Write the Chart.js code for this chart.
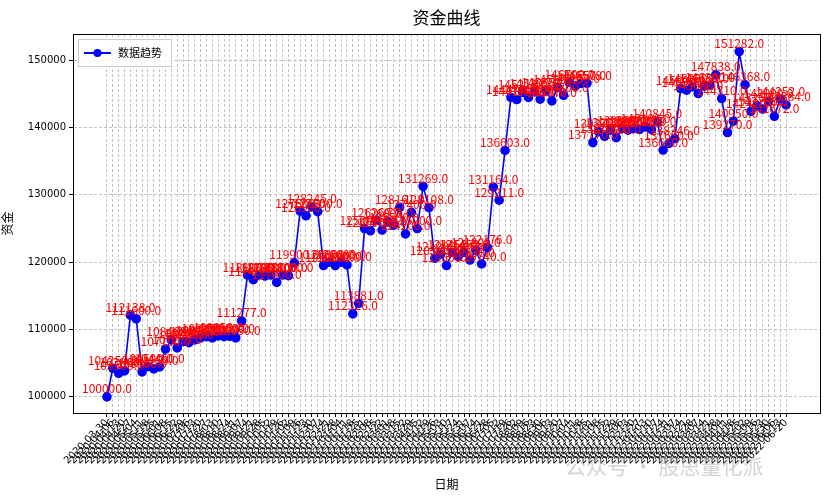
<!DOCTYPE html>
<html>
<head>
<meta charset="utf-8">
<script src="https://cdn.jsdelivr.net/npm/chart.js@4/dist/chart.umd.min.js"></script>
<style>
  html, body { margin: 0; padding: 0; background: #fff; }
  #wrap { width: 833px; height: 500px; position: relative; }
</style>
</head>
<body>
<div id="wrap"><canvas id="fund-chart"></canvas></div>
<script>
// values, one per week
const values = [
    100000, 104250, 103500, 103860, 112138, 111600, 103700, 104500, 104150, 104450,
    107100, 108460, 107270, 108200, 108060, 108460, 108750, 108950, 108750, 109050,
    108950, 109000, 108750, 111277,
    118100, 117400, 118100, 117950, 118100, 117000, 118100, 118000, 119900, 127600,
    126900, 128245, 127500, 119500, 120000, 119500, 120000, 119600, 112326, 113881,
    125000, 124670, 126260, 124780, 126000, 125500, 128161, 124200, 127400, 125000,
    131269, 128108, 120580, 121200, 119500, 121450, 120850, 121450, 120330, 121800,
    119740, 122176, 131164, 129211, 136603,
    144470, 144170, 145218, 144470, 145300, 144220, 145550, 143970, 145950, 144800,
    146700, 146150, 146550, 146578, 137770, 139370, 138700, 139620, 138500, 139880,
    139620, 139880, 139720, 140100, 139720, 140845, 136660, 137650, 138346, 145800,
    145550, 146060, 145060, 146150, 146300, 147838, 144310, 139270, 140950, 151282,
    146368, 142420, 143260, 142760, 143900, 141672, 144252, 143384
];

// weekly dates starting 2020-03-30
const dates = values.map((_, i) => {
    const d = new Date(Date.UTC(2020, 2, 30 + i * 7));
    return d.toISOString().slice(0, 10);
});

const yTicks = [100000, 110000, 120000, 130000, 140000, 150000];

const points = values.map((v, i) => ({ x: i, y: v }));

// red value labels above every point + title + legend + watermark
const extras = {
    id: 'extras',
    afterDatasetsDraw(chart) {
        const ctx = chart.ctx;
        const meta = chart.getDatasetMeta(0);
        ctx.save();
        ctx.font = '12px "Noto Sans CJK SC"';
        ctx.fillStyle = 'red';
        ctx.textAlign = 'center';
        ctx.textBaseline = 'bottom';
        meta.data.forEach((p, i) => {
            ctx.fillText(values[i].toFixed(1), p.x, p.y - 2);
        });
        ctx.restore();
    },
    afterDraw(chart) {
        const ctx = chart.ctx;
        const a = chart.chartArea;
        ctx.save();
        ctx.strokeStyle = '#000';
        ctx.lineWidth = 1;
        ctx.strokeRect(a.left + 0.5, a.top + 0.5, a.right - a.left, a.bottom - a.top);

        ctx.fillStyle = '#000';
        ctx.font = '17px "Noto Sans CJK SC"';
        ctx.textAlign = 'center';
        ctx.textBaseline = 'middle';
        ctx.fillText('资金曲线', (a.left + a.right) / 2, 18);

        // legend box
        const lx = a.left + 5, ly = a.top + 5;
        ctx.fillStyle = 'rgba(255,255,255,0.85)';
        ctx.strokeStyle = '#ccc';
        ctx.fillRect(lx, ly, 93, 27);
        ctx.strokeRect(lx + 0.5, ly + 0.5, 93, 27);
        ctx.strokeStyle = 'blue';
        ctx.lineWidth = 2;
        ctx.beginPath();
        ctx.moveTo(lx + 6, ly + 14);
        ctx.lineTo(lx + 33, ly + 14);
        ctx.stroke();
        ctx.fillStyle = 'blue';
        ctx.beginPath();
        ctx.arc(lx + 19.5, ly + 14, 4, 0, Math.PI * 2);
        ctx.fill();
        ctx.fillStyle = '#000';
        ctx.font = '11px "Noto Sans CJK SC"';
        ctx.textAlign = 'left';
        ctx.fillText('数据趋势', lx + 40, ly + 14);

        // watermark
        ctx.fillStyle = 'rgba(170,170,170,0.5)';
        ctx.font = '21px "Noto Sans CJK SC"';
        ctx.fillText('公众号 · 股思量化派', 565, 466);
        ctx.restore();
    }
};

new Chart(document.getElementById('fund-chart'), {
    type: 'line',
    data: {
        datasets: [{
            label: '数据趋势',
            data: points,
            borderColor: 'blue',
            backgroundColor: 'blue',
            borderWidth: 1.6,
            pointRadius: 4,
            pointHoverRadius: 4,
            tension: 0
        }]
    },
    options: {
        responsive: true,
        maintainAspectRatio: false,
        animation: false,
        layout: { padding: { top: 34, right: 13, left: 0, bottom: 0 } },
        plugins: { legend: { display: false }, tooltip: { enabled: false } },
        scales: {
            x: {
                type: 'linear',
                min: -5.8,
                max: values.length - 1 + 5.8,
                afterBuildTicks: s => { s.ticks = dates.map((_, i) => ({ value: i })); },
                afterFit: s => { s.height = 87; },
                grid: { color: '#c4c4c4', tickColor: '#000', tickLength: 4 },
                border: { color: '#000', dash: [3, 2] },
                ticks: {
                    autoSkip: false,
                    maxRotation: 45,
                    minRotation: 45,
                    padding: 0,
                    color: '#000',
                    font: { size: 10, family: 'DejaVu Sans' },
                    callback: v => dates[v] || ''
                },
                title: {
                    display: true,
                    text: '日期',
                    color: '#000',
                    padding: { top: 0, bottom: 8 },
                    font: { size: 12, family: 'Noto Sans CJK SC' }
                }
            },
            y: {
                min: 97600,
                max: 153900,
                afterBuildTicks: s => { s.ticks = yTicks.map(v => ({ value: v })); },
                afterFit: s => { s.width = 73; },
                grid: { color: '#c4c4c4', tickColor: '#000', tickLength: 4 },
                border: { color: '#000', dash: [3, 2] },
                ticks: {
                    color: '#000',
                    padding: 3,
                    font: { size: 10, family: 'DejaVu Sans' },
                    callback: v => String(v)
                },
                title: {
                    display: true,
                    text: '资金',
                    color: '#000',
                    padding: 0,
                    font: { size: 12, family: 'Noto Sans CJK SC' }
                }
            }
        }
    },
    plugins: [extras]
});
</script>
</body>
</html>
